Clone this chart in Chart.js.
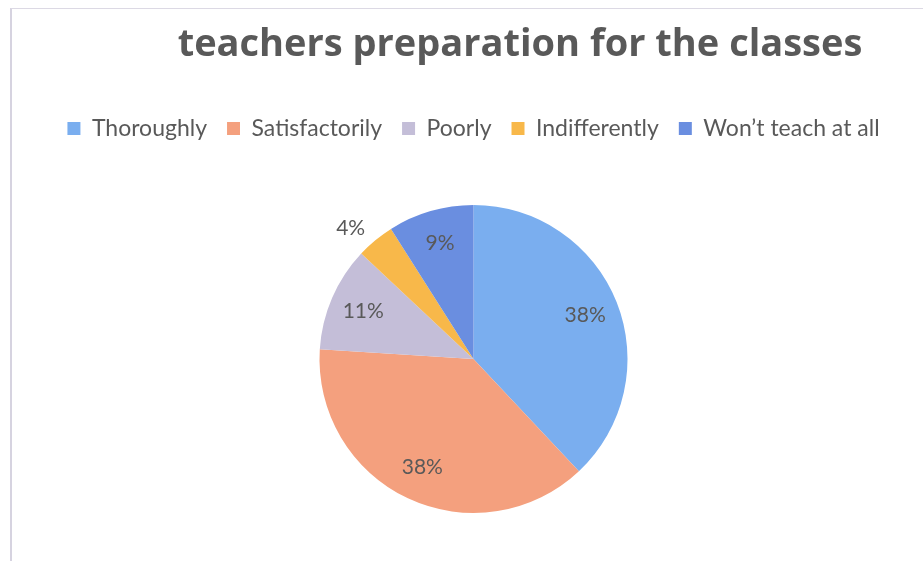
<!DOCTYPE html>
<html>
<head>
<meta charset="utf-8">
<script src="https://cdn.jsdelivr.net/npm/chart.js@4/dist/chart.umd.min.js"></script>
<style>
  html, body { margin: 0; padding: 0; background: #fff; }
  #wrap { position: relative; width: 923px; height: 561px; }
  #frame { position: absolute; left: 10px; top: 8px; right: 0; bottom: 0;
           border-left: 2px solid #d6d3e0; border-top: 1px solid #dcd9e4; }
  canvas { position: absolute; left: 0; top: 0; }
</style>
</head>
<body>
<div id="wrap">
  <div id="frame"></div>
  <canvas id="pieChart" width="923" height="561"></canvas>
</div>
<script>
var categories = ['Thoroughly', 'Satisfactorily', 'Poorly', 'Indifferently', 'Won\u2019t teach at all'];
var percentages = [38, 38, 11, 4, 9];
var sliceColors = ['#7aaeef', '#f4a07e', '#c4bed8', '#f8b84a', '#6a8ee0'];
var chartTitle = 'teachers preparation for the classes';

var textGrey = '#595959';
var fontFamily = 'Lato, "Open Sans", sans-serif';

// title drawn by hand so it can sit right of centre like the original
var titlePlugin = {
  id: 'titleText',
  afterDraw: function (chart) {
    var ctx = chart.ctx;
    ctx.save();
    ctx.font = 'bold 38px "Open Sans", sans-serif';
    ctx.fillStyle = textGrey;
    ctx.textAlign = 'center';
    ctx.textBaseline = 'middle';
    ctx.fillText(chartTitle, 520, 45);
    ctx.restore();
  }
};

// a bit more room under the legend
var legendGap = {
  id: 'legendGap',
  beforeInit: function (chart) {
    var origFit = chart.legend.fit;
    chart.legend.fit = function () {
      origFit.bind(chart.legend)();
      this.height += 10;
    };
  }
};

// percentage labels, inside the slice or just outside for tiny ones
var pctLabels = {
  id: 'pctLabels',
  afterDatasetsDraw: function (chart) {
    var ctx = chart.ctx;
    var meta = chart.getDatasetMeta(0);
    ctx.save();
    ctx.font = '21px ' + fontFamily;
    ctx.fillStyle = textGrey;
    ctx.textBaseline = 'middle';
    meta.data.forEach(function (arc, i) {
      var p = arc.getProps(['x', 'y', 'startAngle', 'endAngle', 'outerRadius'], true);
      var mid = (p.startAngle + p.endAngle) / 2;
      var txt = percentages[i] + '%';
      var r, x, y;
      if (percentages[i] < 5) {
        r = p.outerRadius + 16;
        x = p.x + Math.cos(mid) * r;
        y = p.y + Math.sin(mid) * r;
        ctx.textAlign = Math.cos(mid) < 0 ? 'right' : 'left';
      } else {
        r = p.outerRadius * 0.78;
        x = p.x + Math.cos(mid) * r;
        y = p.y + Math.sin(mid) * r;
        ctx.textAlign = 'center';
      }
      ctx.fillText(txt, x, y);
    });
    ctx.restore();
  }
};

var ctx = document.getElementById('pieChart').getContext('2d');
var pieChart = new Chart(ctx, {
  type: 'pie',
  data: {
    labels: categories,
    datasets: [{
      data: percentages,
      backgroundColor: sliceColors,
      borderWidth: 0
    }]
  },
  options: {
    responsive: false,
    animation: false,
    radius: 154,
    layout: {
      padding: { top: 97, left: 24, right: 0, bottom: 3 }
    },
    plugins: {
      legend: {
        position: 'top',
        labels: {
          boxWidth: 13,
          boxHeight: 13,
          padding: 20,
          color: textGrey,
          font: { family: fontFamily, size: 23 }
        }
      },
      tooltip: { enabled: false }
    }
  },
  plugins: [legendGap, titlePlugin, pctLabels]
});
</script>
</body>
</html>
